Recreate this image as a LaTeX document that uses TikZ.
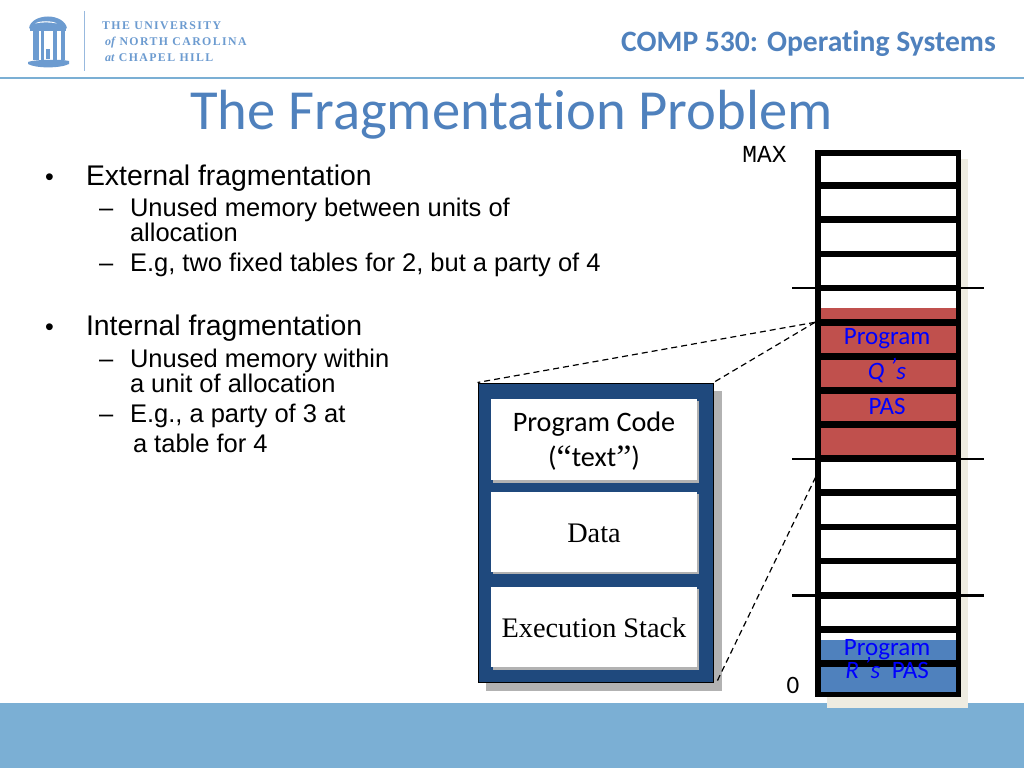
\documentclass[tikz,border=0pt]{standalone}
\usepackage{fontspec}
\setmainfont{Liberation Sans}
\newfontfamily\carl[Ligatures=NoCommon]{Carlito}
\newfontfamily\serifx{Liberation Serif}
\newfontfamily\monox{Liberation Mono}
\newfontfamily\logofont[LetterSpace=12]{Liberation Serif}
\newcommand{\fs}[1]{\fontsize{#1}{#1}\selectfont}
\definecolor{unc}{HTML}{7BAFD4}
\definecolor{titleblue}{HTML}{4F81BD}
\definecolor{logoblue}{HTML}{6C9BD0}
\definecolor{navy}{HTML}{1F497D}
\definecolor{memred}{HTML}{C0504D}
\definecolor{cream}{HTML}{EEECE1}
\definecolor{greyshadow}{HTML}{B2B2B2}
\tikzset{
  txt/.style={anchor=base west,inner sep=0pt,outer sep=0pt,text=black},
  lvlone/.style={txt,font=\fs{28.4}},
  lvltwo/.style={txt,font=\fs{25.5}},
  bulletmark/.style={txt,font=\fs{25}},
  logotxt/.style={anchor=base west,inner sep=0pt,text=logoblue,font=\logofont\bfseries\fs{11.8}},
  cellbox/.style={draw=none,fill=white,minimum width=206pt,inner sep=0pt,align=center},
  bigsep/.style={line width=6.6pt,black},
  tick/.style={line width=2.6pt,black},
  link/.style={black,line width=1.2pt,dash pattern=on 6pt off 4pt},
  memtxt/.style={inner sep=0pt,text=blue,font=\carl\fs{25}},
}
\begin{document}
\begin{tikzpicture}[x=1pt,y=-1pt]
\useasboundingbox (0,0) rectangle (1024,768);
\fill[white] (0,0) rectangle (1024,768);
% footer and header
\fill[unc] (0,703) rectangle (1024,768);
\fill[unc] (0,76.6) rectangle (1024,78.6);
% logo
\fill[logoblue] (29,28.5) .. controls (30,20) and (40,16.5) .. (48,16.5) .. controls (57,16.5) and (66,21) .. (67,28.5) -- cycle;
\fill[white] (35,23.5) .. controls (40,20.5) and (52,20.5) .. (57,23.5) .. controls (50,22) and (42,22) .. (35,23.5) -- cycle;
\fill[logoblue] (30,28) rectangle (66,31);
\fill[logoblue] (33,31) rectangle (38.5,60);
\fill[logoblue] (41,31) rectangle (44,60);
\fill[logoblue] (52.5,31) rectangle (56.5,60);
\fill[logoblue] (61,31) rectangle (65,60);
\fill[logoblue] (46,49) rectangle (50,59);
\fill[logoblue] (28,62) .. controls (34,59.5) and (62,59) .. (69,61) -- (69,64) .. controls (60,68.5) and (36,68.5) .. (28,64) -- cycle;
\draw[logoblue!70,line width=1pt] (84,11) -- (84,71);
\node[logotxt] (l1) at (102,29.5) {THE UNIVERSITY};
\node[logotxt] (l2) at (102,45.5) {{\serifx\itshape\fs{12} of} NORTH CAROLINA};
\node[logotxt] (l3) at (102,61.5) {{\serifx\itshape\fs{12} at} CHAPEL HILL};
% titles
\node[anchor=base east,inner sep=0pt,text=titleblue,font=\carl\bfseries\fs{29.6}] (course) at (996,52) {COMP 530: Operating Systems};
\node[anchor=base west,inner sep=0pt,text=titleblue,font=\carl\fs{56.6}] (title) at (190,129) {The Fragmentation Problem};
% body
\node[bulletmark] (b1) at (45,185) {•};
\node[lvlone] (t1) at (86,185) {External fragmentation};
\node[lvltwo] (d1) at (99,216) {–};
\node[lvltwo] (t2) at (130,216) {Unused memory between units of};
\node[lvltwo] (t3) at (130,241) {allocation};
\node[lvltwo] (d2) at (99,271) {–};
\node[lvltwo] (t4) at (130,271) {E.g, two fixed tables for 2, but a party of 4};
\node[bulletmark] (b2) at (45,335) {•};
\node[lvlone] (t5) at (86,335) {Internal fragmentation};
\node[lvltwo] (d3) at (99,367) {–};
\node[lvltwo] (t6) at (130,367) {Unused memory within};
\node[lvltwo] (t7) at (130,392) {a unit of allocation};
\node[lvltwo] (d4) at (99,422) {–};
\node[lvltwo] (t8) at (130,422) {E.g., a party of 3 at};
\node[lvltwo] (t9) at (133,452) {a table for 4};
% memory stack
\fill[cream] (827,159) rectangle (968,708);
\fill[white] (818,153) rectangle (958,694);
\fill[memred] (820,308) rectangle (956,458);
\fill[titleblue] (820,640) rectangle (956,694);
\foreach \yy in {185.7,219.7,254,288,322.3,356.3,390.3,424.7,458.7,492.7,527,561,595.3,629.3,663.3}
  \draw[bigsep,line cap=butt] (816,\yy) -- (960,\yy);
\draw[line width=5.6pt,black,line join=miter] (817.8,152.8) rectangle (958.4,694.6);
\foreach \yy in {288,459,595.3}
  \draw[tick] (792,\yy) -- (984,\yy);
\coordinate (pasq) at (815,322.3);
\coordinate (pasr) at (820,468);
% segment box
\fill[greyshadow] (486,391) rectangle (722,691);
\node[draw=black,fill=navy,line width=1pt,minimum width=235pt,minimum height=299pt,inner sep=0pt] (seg) at (595.5,532.5) {};
\fill[greyshadow] (493,401) rectangle (699,483);
\fill[greyshadow] (493,494) rectangle (699,574);
\fill[greyshadow] (493,589) rectangle (699,670);
\node[cellbox,minimum height=81pt] (code) at (594,439.5) {};
\node[inner sep=0pt,font=\carl\fs{28.2}] (codea) at (594,424) {Program Code};
\node[inner sep=0pt,font=\carl\fs{28.2}] (codeb) at (594,458) {(\raisebox{-2pt}{\serifx\fs{34}“}text\raisebox{-2pt}{\serifx\fs{34}”})};
\node[cellbox,minimum height=80pt] (data) at (594,531.5) {};
\node[inner sep=0pt,font=\serifx\fs{28.3}] (datat) at (594,533) {Data};
\node[cellbox,minimum height=80pt] (stack) at (594,626.5) {};
\node[inner sep=0pt,font=\serifx\fs{28.3}] (stackt) at (594,628) {Execution Stack};
% connectors
\draw[link] (pasq) -- (seg.north west);
\draw[link] (pasq) -- (seg.north east);
\draw[link] (pasr) -- ([xshift=3pt]seg.south east);
% memory labels
\node[anchor=base,inner sep=0pt,font=\monox\fs{24.5}] (maxl) at (764.5,162) {MAX};
\node[anchor=base,inner sep=0pt,font=\carl\fs{25}] (zero) at (793,693) {0};
\node[memtxt,anchor=base] (q1) at (887,344) {Program};
\node[memtxt,anchor=base] (q2) at (887,379) {\itshape Q \raisebox{4pt}{’}s};
\node[memtxt,anchor=base] (q3) at (887,414) {PAS};
\node[memtxt,anchor=base] (r1) at (887,655) {Program};
\node[memtxt,anchor=base] (r2) at (887,678) {\itshape R \raisebox{4pt}{’}s\upshape\ \ PAS};
\end{tikzpicture}
\end{document}
